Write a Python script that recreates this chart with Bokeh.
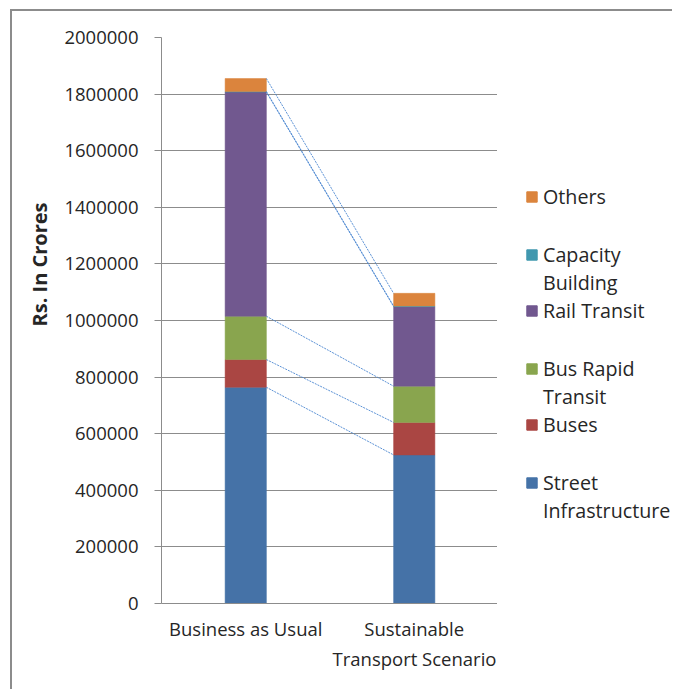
from bokeh.plotting import figure
from bokeh.layouts import row
from bokeh.models import (Range1d, FactorRange, FixedTicker, BasicTickFormatter,
                          Legend, LegendItem, Title, ColumnDataSource, CategoricalAxis)
from bokeh.embed import file_html
from bokeh.resources import INLINE

categories = ["Business as Usual", "Sustainable Transport Scenario"]
label_line1 = ["Business as Usual", "Sustainable"]
label_line2 = "Transport Scenario"

street_infrastructure = [764000, 525000]
buses = [98000, 115000]
bus_rapid_transit = [153000, 128000]
rail_transit = [792000, 281000]
capacity_building = [2000, 2000]
others = [46000, 45000]

y_ticks = [0, 200000, 400000, 600000, 800000, 1000000,
           1200000, 1400000, 1600000, 1800000, 2000000]

keys = ["street", "buses", "brt", "rail", "capacity", "others"]
names = [["Street", "Infrastructure"], ["Buses"], ["Bus Rapid", "Transit"],
         ["Rail Transit"], ["Capacity", "Building"], ["Others"]]
colors = ["#4572a7", "#aa4643", "#89a54e", "#71588f", "#4198af", "#db843d"]

series = [street_infrastructure, buses, bus_rapid_transit, rail_transit,
          capacity_building, others]

src = ColumnDataSource(dict(cat=categories, street=street_infrastructure, buses=buses,
                            brt=bus_rapid_transit, rail=rail_transit,
                            capacity=capacity_building, others=others))

FONT = "Open Sans"
TEXT = "#262626"
GRID = "#8c8c8c"
BORDER = "2px solid #8c8c8c"

p = figure(x_range=FactorRange(*categories), y_range=Range1d(0, 2000000),
           width=487, height=680, output_backend="svg", toolbar_location=None,
           x_axis_location=None,
           min_border_left=149, min_border_right=1, min_border_top=26,
           min_border_bottom=88)
p.margin = (9, 0, 0, 10)
p.styles = {"border-left": BORDER, "border-top": BORDER}
p.outline_line_color = None
p.background_fill_color = "white"
p.border_fill_color = "white"
p.extra_x_ranges = {"line1": FactorRange(*label_line1)}

rs = p.vbar_stack(keys, x="cat", width=0.245, color=colors, line_color=colors,
                  line_width=0.5, source=src)

# series lines connecting stacked tops
cum_a, cum_b = [], []
ta = tb = 0
for s in series:
    ta += s[0]
    tb += s[1]
    cum_a.append(ta)
    cum_b.append(tb)
p.segment(x0=[(categories[0], 0.1225)] * len(series), y0=cum_a,
          x1=[(categories[1], -0.1225)] * len(series), y1=cum_b,
          line_color="#4a86d0", line_dash="2 1", line_width=1, line_alpha=0.9)

# axes
p.yaxis.ticker = FixedTicker(ticks=y_ticks)
p.yaxis.formatter = BasicTickFormatter(use_scientific=False)
p.yaxis.minor_tick_line_color = None
p.yaxis.major_tick_in = 0
p.yaxis.major_tick_out = 7
p.yaxis.major_tick_line_color = GRID
p.yaxis.axis_line_color = GRID
p.yaxis.major_label_standoff = 16
p.yaxis.major_label_text_font = FONT
p.yaxis.major_label_text_font_size = "18.5px"
p.yaxis.major_label_text_color = TEXT

xa1 = CategoricalAxis(x_range_name="line1", major_tick_line_color=None,
                      axis_line_color=GRID, major_label_standoff=6,
                      major_label_text_font=FONT, major_label_text_font_size="18.5px",
                      major_label_text_color=TEXT)
p.add_layout(xa1, "below")

line2 = Title(text=label_line2, align="left", offset=171, standoff=0,
              text_font=FONT, text_font_size="18.5px", text_font_style="normal",
              text_color=TEXT)
p.add_layout(line2, "below")

p.xgrid.visible = False
p.ygrid.grid_line_color = GRID
p.ygrid.grid_line_width = 1

t = Title(text="Rs. In Crores", align="left", offset=277, text_font=FONT,
          text_font_size="20px", text_font_style="bold", text_color=TEXT, standoff=17)
p.add_layout(t, "left")

# legend panel (same data, renderers hidden; only the legend is shown)
q = figure(x_range=FactorRange(*categories), y_range=Range1d(0, 2000000),
           width=175, height=680, output_backend="svg", toolbar_location=None,
           x_axis_type=None, y_axis_type=None, min_border=0)
q.margin = (9, 0, 0, 0)
q.styles = {"border-top": BORDER}
q.outline_line_color = None
q.grid.visible = False

swatches = q.vbar_stack(keys, x="cat", width=0.245, color=colors, source=src,
                        visible=False)
blank = q.vbar(x="cat", top="street", source=src, width=0.245, fill_alpha=0,
               line_alpha=0, visible=False)

# legend groups (top to bottom) and their bottom offsets from the plot-area bottom
groups = [[5], [4, 3], [2, 1], [0]]
group_y = [393, 279, 165, 79]
for grp, gy in zip(groups, group_y):
    items = []
    for i in grp:
        items.append(LegendItem(label=names[i][0], renderers=[swatches[i]]))
        for extra in names[i][1:]:
            items.append(LegendItem(label=extra, renderers=[blank]))
    lg = Legend(items=items, location=(28, gy), glyph_width=13, glyph_height=13,
                label_standoff=5, spacing=0, padding=0, margin=0,
                border_line_color=None, background_fill_alpha=0,
                label_text_font=FONT, label_text_font_size="19.7px",
                label_text_color=TEXT, label_height=28)
    q.add_layout(lg)

layout = row(p, q)
open("out.html", "w").write(file_html(layout, INLINE))
